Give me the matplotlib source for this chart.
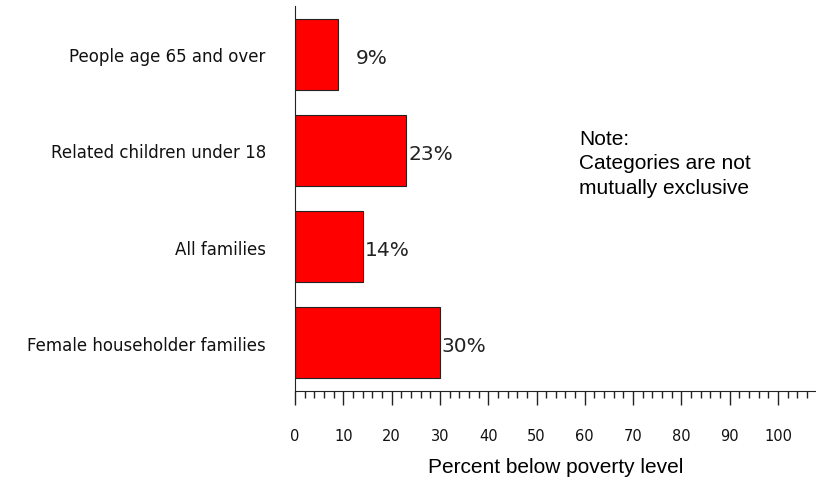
import matplotlib
matplotlib.use("Agg")
import matplotlib.pyplot as plt
from matplotlib.ticker import MultipleLocator

categories = ["People age 65 and over", "Related children under 18",
              "All families", "Female householder families"]
values = [9, 23, 14, 30]
x_ticks = [0, 10, 20, 30, 40, 50, 60, 70, 80, 90, 100]

fig = plt.figure(figsize=(8.16, 4.81), dpi=100)
ax = fig.add_axes([295 / 816, 89 / 481, 521 / 816, 385 / 481])

pos = range(len(categories))
ax.barh(pos, values, height=0.74, color="#ff0000", edgecolor="#222222", linewidth=0.8)
ax.set_ylim(3.5, -0.5)
ax.set_xlim(0, 521 / 4.83)

ax.set_yticks(list(pos))
ax.set_yticklabels(categories, fontsize=12, family="DejaVu Sans", color="#111111")
ax.tick_params(axis="y", length=0, pad=21)

ax.set_xticks(x_ticks)
ax.set_xticklabels([str(t) for t in x_ticks], fontsize=10.5, family="DejaVu Sans", color="#111111")
ax.xaxis.set_minor_locator(MultipleLocator(2))
ax.tick_params(axis="x", which="major", length=10, width=1, pad=17, color="#222222")
ax.tick_params(axis="x", which="minor", length=5, width=1, color="#222222")
# no minor ticks past 100
for t in ax.xaxis.get_minor_ticks():
    if t.get_loc() > 100:
        t.tick1line.set_visible(False)

for s in ["top", "right"]:
    ax.spines[s].set_visible(False)
ax.spines["left"].set_color("#222222")
ax.spines["bottom"].set_color("#222222")

for i, v in enumerate(values):
    off = 3.5 if v < 10 else 0.4
    ax.text(v + off, i + 0.03, f"{v}%", va="center", ha="left", fontsize=14.5,
            family="DejaVu Sans", color="#222222")

ax.set_xlabel("Percent below poverty level", fontsize=15, family="Liberation Sans",
              labelpad=10)

fig.text(579 / 816, 1 - 130 / 481, "Note:\nCategories are not\nmutually exclusive",
         fontsize=15, family="Liberation Sans", va="top", ha="left", linespacing=1.35)

fig.savefig("out.png", dpi=100)
